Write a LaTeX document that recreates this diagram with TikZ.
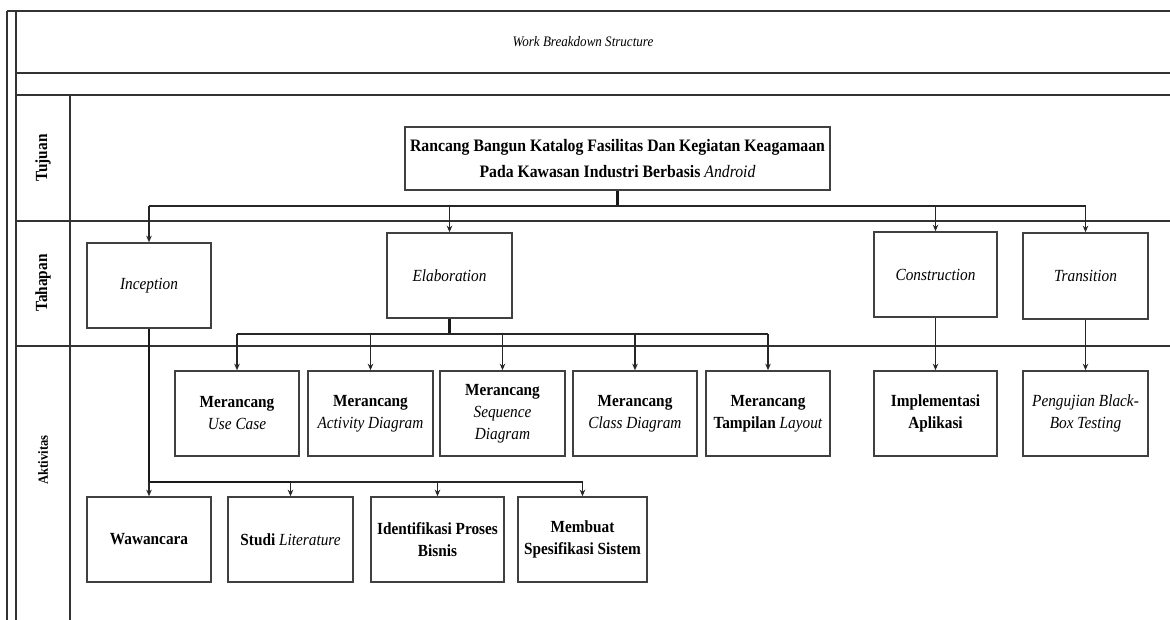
\documentclass[tikz,border=0pt]{standalone}
\usepackage{fontspec}
\setmainfont{Liberation Serif}[FakeStretch=0.9]
\usetikzlibrary{arrows.meta}
\tikzset{
  grid/.style={line width=1.4pt, draw=black!80},
  box/.style={draw=black!75, line width=1.6pt, fill=white, align=center, inner sep=2pt,
    font=\fontsize{17}{22}\selectfont\bfseries},
  stagebox/.style={box, font=\fontsize{17}{22}\selectfont\itshape},
  goalbox/.style={box, font=\fontsize{17.5}{26}\selectfont\bfseries},
  lanelabel/.style={rotate=90, font=\fontsize{17}{20}\selectfont\bfseries},
  conn/.style={line width=1.3pt, draw=black!85},
  stem/.style={line width=2.4pt, draw=black!90},
  arr/.style={conn, -{Stealth[length=6.5pt,width=5.5pt]}},
}
\newcommand{\ita}[1]{\textmd{\textit{#1}}}
\begin{document}
\begin{tikzpicture}[x=1pt,y=-1pt]
\useasboundingbox[fill=white] (0,0) rectangle (1170,620);
% table
\draw[grid] (7,11) -- (1170,11);
\draw[grid] (7,11) -- (7,620);
\draw[grid] (16,11) -- (16,620);
\draw[grid] (16,73) -- (1170,73);
\draw[grid] (16,95) -- (1170,95);
\draw[grid] (16,221) -- (1170,221);
\draw[grid] (16,346) -- (1170,346);
\draw[grid] (70,95) -- (70,620);
\node[font=\fontsize{14.5}{16}\selectfont\itshape] (title) at (583,42) {Work Breakdown Structure};
\node[lanelabel] (ltuj) at (43,158) {Tujuan};
\node[lanelabel] (ltah) at (43,283) {Tahapan};
\node[lanelabel, font=\fontsize{14}{16}\selectfont\bfseries] (lakt) at (43,460) {Aktivitas};
% goal
\node[goalbox, minimum width=425pt, minimum height=63pt] (goal) at (617.5,158.5)
  {Rancang Bangun Katalog Fasilitas Dan Kegiatan Keagamaan\\Pada Kawasan Industri Berbasis \ita{Android}};
% stages
\node[stagebox, minimum width=124pt, minimum height=85pt] (inc) at (149,285.5) {Inception};
\node[stagebox, minimum width=125pt, minimum height=85pt] (ela) at (449.5,275.5) {Elaboration};
\node[stagebox, minimum width=123pt, minimum height=85pt] (con) at (935.5,274.5) {Construction};
\node[stagebox, minimum width=125pt, minimum height=86pt] (tra) at (1085.5,276) {Transition};
% activities row 1
\node[box, minimum width=124pt, minimum height=85pt] (uc) at (237,413.5) {Merancang\\\ita{Use Case}};
\node[box, minimum width=125pt, minimum height=85pt] (ad) at (370.5,413.5) {Merancang\\\ita{Activity Diagram}};
\node[box, minimum width=125pt, minimum height=85pt] (sd) at (502.5,413.5) {Merancang\\\ita{Sequence}\\\ita{Diagram}};
\node[box, minimum width=124pt, minimum height=85pt] (cd) at (635,413.5) {Merancang\\\ita{Class Diagram}};
\node[box, minimum width=124pt, minimum height=85pt] (lay) at (768,413.5) {Merancang\\Tampilan \ita{Layout}};
\node[box, minimum width=123pt, minimum height=85pt] (imp) at (935.5,413.5) {Implementasi\\Aplikasi};
\node[box, minimum width=125pt, minimum height=85pt] (pen) at (1085.5,413.5) {\ita{Pengujian Black-}\\\ita{Box Testing}};
% activities row 2
\node[box, minimum width=124pt, minimum height=85pt] (waw) at (149,539.5) {Wawancara};
\node[box, minimum width=125pt, minimum height=85pt] (stu) at (290.5,539.5) {Studi \ita{Literature}};
\node[box, minimum width=133pt, minimum height=85pt] (ide) at (437.5,539.5) {Identifikasi Proses\\Bisnis};
\node[box, minimum width=129pt, minimum height=85pt] (mem) at (582.5,539.5) {Membuat\\Spesifikasi Sistem};
% bus coordinates
\coordinate (bg) at (0,206);
\coordinate (be) at (0,334);
\coordinate (bi) at (0,482);
% goal -> stages
\draw[stem] (goal.south) -- (goal.south |- bg);
\draw[conn] (inc.north |- bg) -- (tra.north |- bg);
\foreach \n in {inc,ela,con,tra} \draw[arr] (\n.north |- bg) -- (\n.north);
% elaboration -> design activities
\draw[stem] (ela.south) -- (ela.south |- be);
\draw[conn] (uc.north |- be) -- (lay.north |- be);
\foreach \n in {uc,ad,sd,cd,lay} \draw[arr] (\n.north |- be) -- (\n.north);
% construction, transition
\draw[arr] (con.south) -- (imp.north);
\draw[arr] (tra.south) -- (pen.north);
% inception -> activities
\draw[stem] (inc.south) -- (inc.south |- bi);
\draw[stem] (inc.south |- bi) -- (stu.north |- bi);
\draw[conn] (stu.north |- bi) -- (mem.north |- bi);
\foreach \n in {waw,stu,ide,mem} \draw[arr] (\n.north |- bi) -- (\n.north);
\end{tikzpicture}
\end{document}
